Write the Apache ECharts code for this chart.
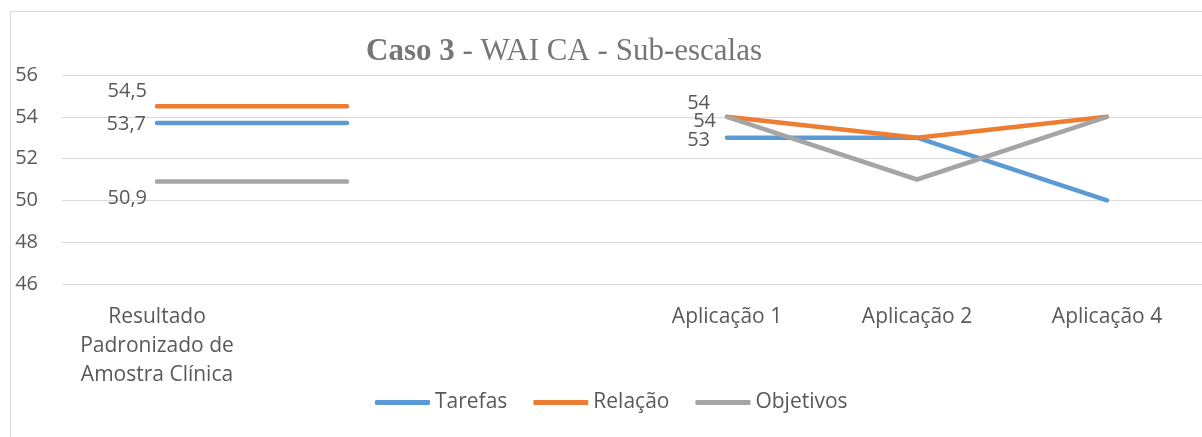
<!DOCTYPE html>
<html>
<head>
<meta charset="utf-8">
<script src="https://cdn.jsdelivr.net/npm/echarts@6/dist/echarts.min.js"></script>
<style>html,body{margin:0;padding:0;background:#fff}#c{width:1202px;height:437px}</style>
</head>
<body>
<div id="c"></div>
<script>
const categories = ["Resultado\nPadronizado de\nAmostra Clínica", "", "", "Aplicação 1", "Aplicação 2", "Aplicação 4"];
const seriesNames = ["Tarefas", "Relação", "Objetivos"];
const tarefas   = [53.7, 53.7, null, 53, 53, 50];
const relacao   = [54.5, 54.5, null, 54, 53, 54];
const objetivos = [50.9, 50.9, null, 54, 51, 54];
const yTicks = { min: 46, max: 56, interval: 2 };
const labelledIndexes = [0, 3];

const colors = ["#5B9BD5", "#ED7D31", "#A5A5A5"];
// label offsets (style only), per series, per labelled index
const labelOffsets = [
  { 0: [-11, 1],  3: [-17, 3] },
  { 0: [-10, -15], 3: [-17, -14] },
  { 0: [-10, 17], 3: [-11, 4] }
];

const fmt = v => String(v).replace('.', ',');

function buildData(values, si) {
  return values.map((v, i) => {
    if (labelledIndexes.indexOf(i) >= 0 && v != null) {
      return {
        value: v,
        label: {
          show: true, position: 'left', distance: 0,
          offset: labelOffsets[si][i],
          formatter: p => fmt(p.value),
          fontFamily: 'Open Sans', fontSize: 20, color: '#595959'
        }
      };
    }
    return v;
  });
}

const allValues = [tarefas, relacao, objetivos];

const chart = echarts.init(document.getElementById('c'), null, { renderer: 'canvas' });
chart.setOption({
  animation: false,
  backgroundColor: '#fff',
  graphic: [{
    type: 'rect', z: -10, silent: true,
    shape: { x: 10.5, y: 11.5, width: 1300, height: 500 },
    style: { fill: 'none', stroke: '#d9d9d9', lineWidth: 1 }
  }],
  title: {
    text: '{b|Caso 3}{n| - WAI CA - Sub-escalas}',
    left: 366, top: 36, padding: 0,
    textStyle: {
      rich: {
        b: { fontFamily: 'Liberation Serif', fontSize: 31, fontWeight: 'bold', color: '#767676' },
        n: { fontFamily: 'Liberation Serif', fontSize: 31, fontWeight: 'normal', color: '#767676' }
      }
    }
  },
  legend: {
    data: seriesNames,
    left: 375, top: 392, padding: 0,
    itemWidth: 55, itemHeight: 5, itemGap: 26,
    icon: 'roundRect',
    textStyle: { fontFamily: 'Open Sans', fontSize: 21, color: '#595959' }
  },
  grid: { left: 62, right: -7, top: 75, bottom: 153, containLabel: false },
  xAxis: {
    type: 'category', data: categories, boundaryGap: true,
    axisLine: { show: false }, axisTick: { show: false },
    axisLabel: { interval: 0, fontFamily: 'Open Sans', fontSize: 21, color: '#595959', lineHeight: 29, margin: 19 },
    splitLine: { show: false }
  },
  yAxis: {
    type: 'value', min: yTicks.min, max: yTicks.max, interval: yTicks.interval,
    axisLine: { show: false }, axisTick: { show: false },
    axisLabel: { fontFamily: 'Open Sans', fontSize: 20, color: '#595959', margin: 24 },
    splitLine: { lineStyle: { color: '#d9d9d9', width: 1 } }
  },
  series: seriesNames.map((name, si) => ({
    name, type: 'line',
    data: buildData(allValues[si], si),
    symbol: 'circle', symbolSize: 0, showSymbol: true,
    connectNulls: false,
    color: colors[si],
    lineStyle: { color: colors[si], width: 4.5, cap: 'round', join: 'round' },
    itemStyle: { color: colors[si] }
  }))
});
</script>
</body>
</html>
